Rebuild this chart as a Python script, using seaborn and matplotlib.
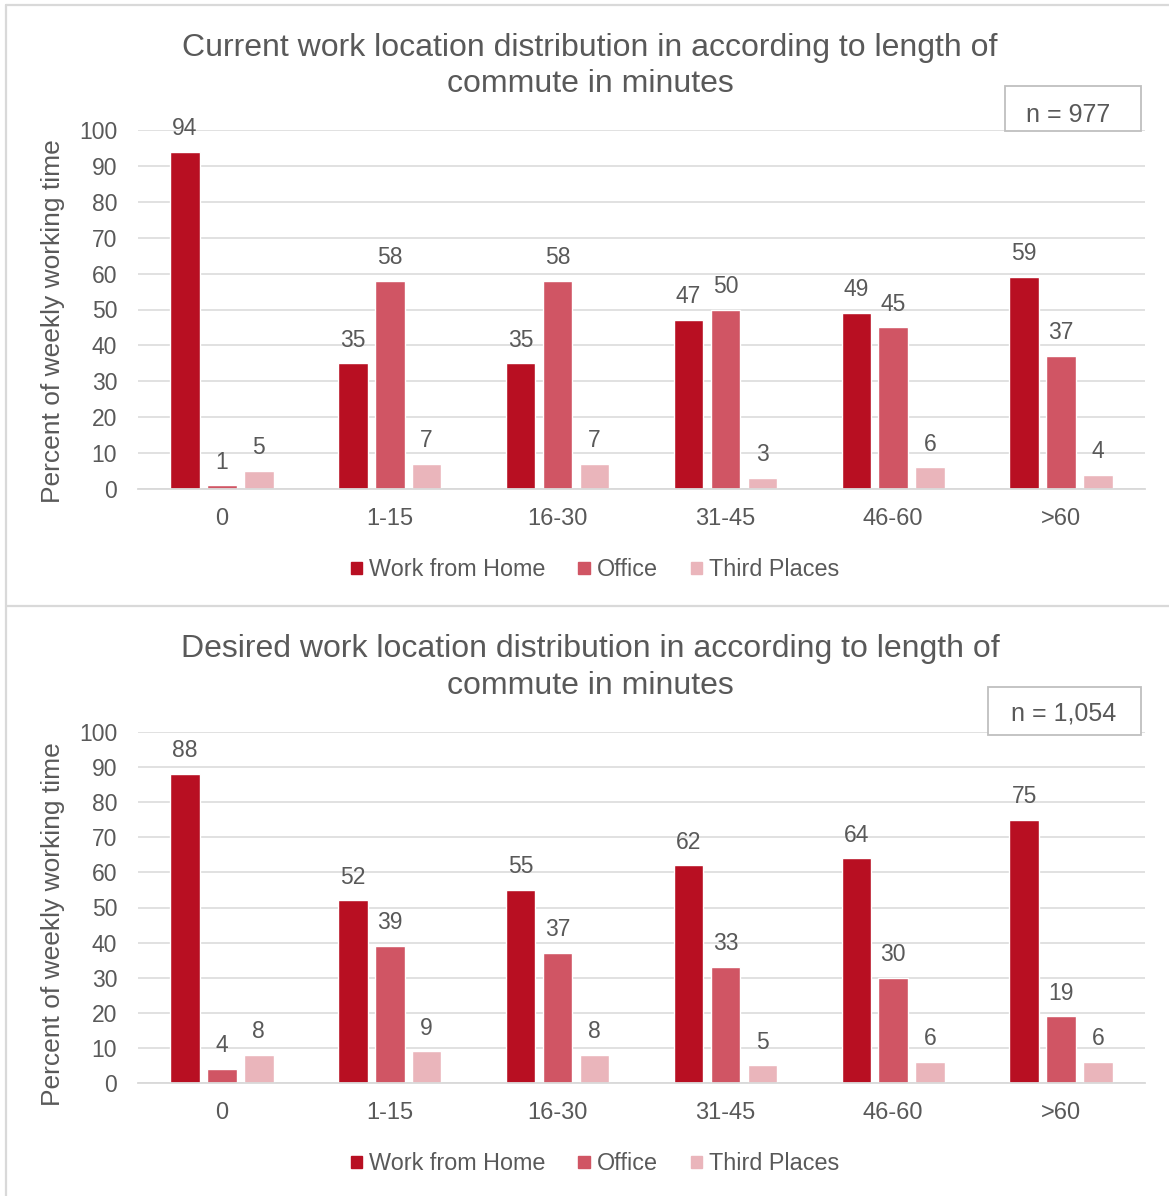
import matplotlib.pyplot as plt
import seaborn as sns
import pandas as pd
from matplotlib.lines import Line2D
from matplotlib.patches import Rectangle

sns.set_theme(style="white")
plt.rcParams['font.family'] = ['Liberation Sans', 'DejaVu Sans']

# Daten
commute = ["0", "1-15", "16-30", "31-45", "46-60", ">60"]
locations = ["Work from Home", "Office", "Third Places"]

current_home = [94, 35, 35, 47, 49, 59]
current_office = [1, 58, 58, 50, 45, 37]
current_third = [5, 7, 7, 3, 6, 4]

desired_home = [88, 52, 55, 62, 64, 75]
desired_office = [4, 39, 37, 33, 30, 19]
desired_third = [8, 9, 8, 5, 6, 6]

titles = ["Current work location distribution in according to length of\ncommute in minutes",
          "Desired work location distribution in according to length of\ncommute in minutes"]
n_labels = ["n = 977", "n = 1,054"]

palette = {"Work from Home": "#B80F22", "Office": "#D05564", "Third Places": "#EAB5BB"}
txt = "#595959"
grid_col = "#D9D9D9"

W, H = 1169, 1196
fig = plt.figure(figsize=(W / 100, H / 100), dpi=100)


def fx(px):
    return px / W


def fy(py):
    return 1 - py / H


def make_df(home, office, third):
    df = pd.DataFrame({"Commute": commute, "Work from Home": home,
                       "Office": office, "Third Places": third})
    return df.melt(id_vars="Commute", var_name="Location", value_name="Percent")


datasets = [make_df(current_home, current_office, current_third),
            make_df(desired_home, desired_office, desired_third)]

# Achsenpositionen (Pixel): links, rechts, unten, oben
layouts = [dict(ax=(138, 1145, 489, 130), title_y=66, legend_y=570, ylab_y=0.468,
                box=(1005, 86, 1141, 131), box_text=(1068, 115)),
           dict(ax=(138, 1145, 1083, 732), title_y=667.5, legend_y=1164, ylab_y=0.452,
                box=(988, 687, 1141, 735), box_text=(1064, 714))]

for df, title, nlab, lay in zip(datasets, titles, n_labels, layouts):
    l, r, b, t = lay["ax"]
    ax = fig.add_axes([fx(l), fy(b), fx(r - l), fy(t) - fy(b)])
    sns.barplot(data=df, x="Commute", y="Percent", hue="Location", hue_order=locations,
                palette=palette, width=0.66, gap=0.2, ax=ax, saturation=1, legend=False)
    for cont in ax.containers:
        ax.bar_label(cont, padding=8.5, fontsize=16.5, color=txt)
    ax.set_ylim(0, 100)
    ax.set_yticks(range(0, 101, 10))
    ax.grid(axis="y", color=grid_col, linewidth=1.1)
    ax.set_axisbelow(True)
    for s in ["top", "right", "left"]:
        ax.spines[s].set_visible(False)
    ax.spines["bottom"].set_color(grid_col)
    ax.spines["bottom"].set_linewidth(1.3)
    ax.tick_params(axis="x", length=0, pad=14, labelsize=17, labelcolor=txt)
    ax.tick_params(axis="y", length=0, pad=15, labelsize=16.5, labelcolor=txt)
    ax.set_xlabel("")
    ax.set_ylabel("Percent of weekly working time", fontsize=19, color=txt, va="center")
    ax.yaxis.set_label_coords(-0.0844, lay["ylab_y"])

    fig.text(fx(590), fy(lay["title_y"]), title, ha="center", va="center",
             fontsize=23, color=txt, linespacing=1.27)

    handles = [Rectangle((0, 0), 1, 1, color=palette[k]) for k in locations]
    ax.legend(handles, locations, loc="center", bbox_to_anchor=(fx(595), fy(lay["legend_y"])),
              bbox_transform=fig.transFigure, ncol=3, frameon=False, fontsize=16.8,
              labelcolor=txt, handlelength=0.5, handleheight=0.45, handletextpad=0.3,
              columnspacing=1.4)

    x0, y0, x1, y1 = lay["box"]
    fig.add_artist(Rectangle((fx(x0), fy(y1)), fx(x1 - x0), fy(y0) - fy(y1),
                             transform=fig.transFigure, facecolor="white",
                             edgecolor="#BFBFBF", linewidth=1.3))
    fig.text(fx(lay["box_text"][0]), fy(lay["box_text"][1]), nlab, ha="center",
             va="center", fontsize=18, color=txt)

# Rahmen der beiden Diagrammflächen
for xs, ys in [([6, W], [5, 5]), ([6, 6], [5, H]), ([6, W], [606, 606])]:
    fig.add_artist(Line2D([fx(x) for x in xs], [fy(y) for y in ys], color=grid_col,
                          linewidth=1.6, transform=fig.transFigure))

plt.savefig("out.png", dpi=100)
plt.close()
